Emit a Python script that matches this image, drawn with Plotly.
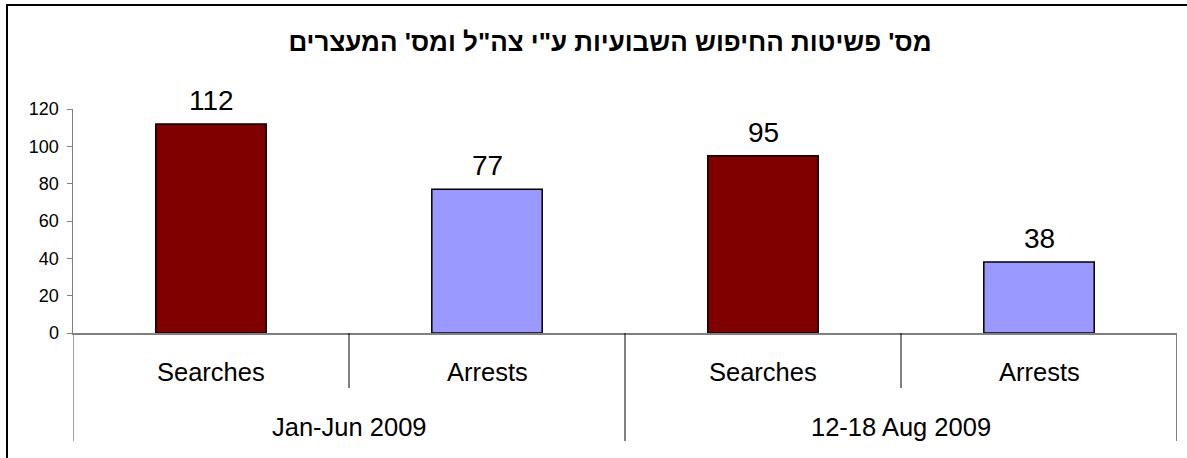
import plotly.graph_objects as go

# ---- data ----
groups = ["Jan-Jun 2009", "Jan-Jun 2009", "12-18 Aug 2009", "12-18 Aug 2009"]
subcats = ["Searches", "Arrests", "Searches", "Arrests"]
values = [112, 77, 95, 38]
bar_colors = ["#800000", "#9999FF", "#800000", "#9999FF"]
y_ticks = [0, 20, 40, 60, 80, 100, 120]
title_text = "מס' פשיטות החיפוש השבועיות ע\"י צה\"ל ומס' המעצרים"

# ---- geometry ----
W, H = 1187, 458
L, R, T, B = 73, 1177, 109, 333  # plot area in pixels
PW, PH = R - L, B - T
FONT = "Liberation Sans, Arial"


def px_x(p):
    return (p - L) / PW


def px_y(p):
    return (B - p) / PH


xs = list(range(len(values)))

fig = go.Figure()
fig.add_trace(go.Bar(
    x=xs, y=values, width=0.4,
    marker=dict(color=bar_colors, line=dict(color="black", width=1.5)),
    hoverinfo="skip", cliponaxis=False,
))

annotations = []
# data labels
for x, v in zip(xs, values):
    annotations.append(dict(x=x, y=v, xref="x", yref="y", text=str(v), showarrow=False,
                            yanchor="bottom", yshift=6,
                            font=dict(family=FONT, size=28, color="black")))
# sub-category labels
for x, s in zip(xs, subcats):
    annotations.append(dict(x=x, y=0, xref="x", yref="paper", text=s, showarrow=False,
                            yanchor="middle", yshift=-39,
                            font=dict(family=FONT, size=25.5, color="black")))
# group labels
seen = []
for g in groups:
    if g not in seen:
        seen.append(g)
for g in seen:
    idx = [i for i, gg in enumerate(groups) if gg == g]
    cx = (idx[0] + idx[-1]) / 2
    annotations.append(dict(x=cx, y=0, xref="x", yref="paper", text=g, showarrow=False,
                            yanchor="middle", yshift=-94,
                            font=dict(family=FONT, size=25.5, color="black")))

shapes = []
inner_bottom = px_y(388)
outer_bottom = px_y(441)
# dividers
for i in range(1, len(xs) + 1):
    b = i - 0.5
    if i == len(xs):
        shapes.append(dict(type="line", xref="x", yref="paper", x0=b, x1=b, y0=0, y1=outer_bottom,
                           line=dict(color="#808080", width=2)))
    elif groups[i] != groups[i - 1]:
        shapes.append(dict(type="line", xref="x", yref="paper", x0=b, x1=b, y0=0, y1=outer_bottom,
                           line=dict(color="black", width=1)))
    else:
        shapes.append(dict(type="line", xref="x", yref="paper", x0=b, x1=b, y0=0, y1=inner_bottom,
                           line=dict(color="black", width=1)))
# y-axis extension
shapes.append(dict(type="line", xref="x", yref="paper", x0=-0.5, x1=-0.5, y0=0, y1=outer_bottom,
                   line=dict(color="#808080", width=1.5)))
# outer chart border (left & top)
shapes.append(dict(type="line", xref="paper", yref="paper", x0=px_x(7), x1=px_x(7),
                   y0=px_y(5), y1=px_y(H + 5), line=dict(color="black", width=2)))
shapes.append(dict(type="line", xref="paper", yref="paper", x0=px_x(6), x1=px_x(W + 5),
                   y0=px_y(5), y1=px_y(5), line=dict(color="black", width=2)))

fig.update_layout(
    width=W, height=H,
    margin=dict(l=L, r=W - R, t=T, b=H - B, pad=0),
    paper_bgcolor="white", plot_bgcolor="white",
    showlegend=False,
    title=dict(text="<b>" + title_text + "</b>", xref="container", yref="container",
               x=610 / W, y=1 - 42 / H, xanchor="center", yanchor="middle",
               font=dict(family=FONT, size=26, color="black")),
    xaxis=dict(range=[-0.5, len(xs) - 0.5], showticklabels=False, showgrid=False, zeroline=False,
               showline=True, linecolor="#808080", linewidth=2, ticks="", fixedrange=True),
    yaxis=dict(range=[0, 120], tickvals=y_ticks, showgrid=False, zeroline=False,
               showline=True, linecolor="#808080", linewidth=1.5,
               ticks="outside", ticklen=5, tickcolor="#808080", tickwidth=1,
               tickfont=dict(family=FONT, size=18, color="black"),
               ticklabelstandoff=4, fixedrange=True),
    annotations=annotations,
    shapes=shapes,
)

fig.write_html("out.html", config={"displayModeBar": False, "staticPlot": True},
               post_script="document.body.style.margin='0px';")
